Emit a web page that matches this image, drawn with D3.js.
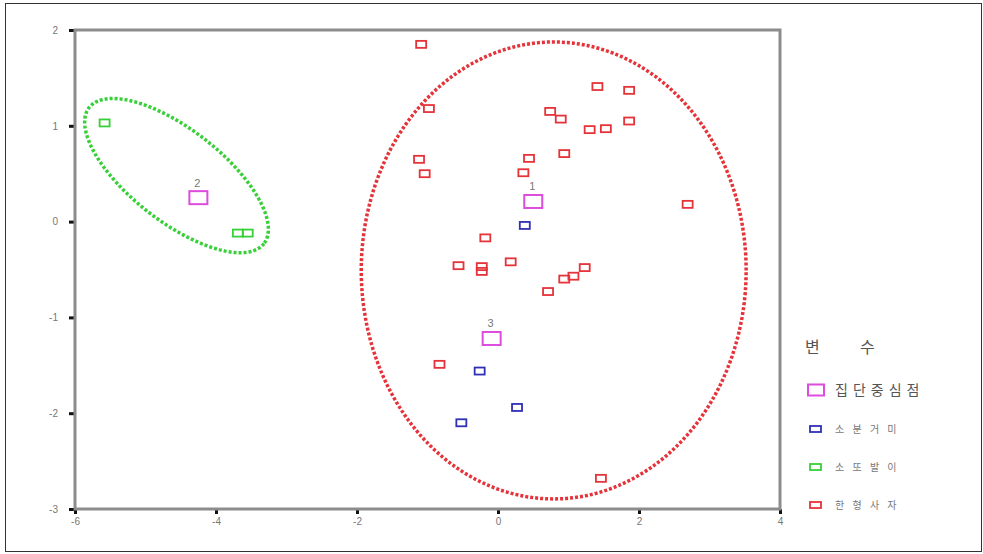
<!DOCTYPE html>
<html>
<head>
<meta charset="utf-8">
<script src="https://cdn.jsdelivr.net/npm/d3@7"></script>
<style>
  body { margin: 0; background: #fff; }
  svg { display: block; }
  .tick text { font-family: "Liberation Sans", Arial, sans-serif; font-size: 10px; fill: #777; }
  .legend text { font-family: "Noto Sans CJK KR", sans-serif; fill: #666; }
</style>
</head>
<body>
<svg id="chart" width="983" height="554"></svg>
<script>
// Group members: [x, y]
var redPoints = [
  [-1.09, 1.85], [-0.98, 1.18], [-1.12, 0.65], [-1.04, 0.50],
  [0.74, 1.15], [0.89, 1.07], [1.41, 1.41], [1.86, 1.37],
  [1.30, 0.96], [1.53, 0.97], [1.86, 1.05], [0.44, 0.66],
  [0.94, 0.71], [0.36, 0.51], [2.69, 0.18],
  [-0.18, -0.17], [-0.56, -0.46], [-0.23, -0.47], [-0.23, -0.52],
  [0.18, -0.42], [1.23, -0.48], [1.07, -0.57], [0.94, -0.60],
  [0.71, -0.73], [-0.83, -1.49], [1.46, -2.68]
];
var bluePoints = [[0.38, -0.04], [-0.26, -1.56], [0.27, -1.94], [-0.52, -2.10]];
var greenPoints = [[-5.58, 1.03], [-3.69, -0.12], [-3.55, -0.12]];

// Group centroids
var centroidLabels = ['1', '2', '3'];
var centroids = [[0.50, 0.21], [-4.25, 0.25], [-0.09, -1.22]];

// Ellipses: centre and two conjugate semi-axes in data units
var greenEllipse = { c: [-4.56, 0.48], a: [1.24, -0.71], b: [-0.40, -0.38] };
var redEllipse = { c: [0.79, -0.51], a: [2.73, 0], b: [0, 2.385] };

var xTicks = [-6, -4, -2, 0, 2, 4];
var yTicks = [-3, -2, -1, 0, 1, 2];
var legendTitle = ['변', '수'];
var legendLabels = ['집단중심점', '소 분 거 미', '소 또 발 이', '한 형 사 자'];

var colors = { red: '#e5333a', blue: '#3030b5', green: '#38d038', centroid: '#dd4ddd' };

var svg = d3.select('#chart');

// Outer frame
svg.append('rect')
  .attr('x', 5.5).attr('y', 3.5)
  .attr('width', 976).attr('height', 548)
  .attr('fill', 'none').attr('stroke', '#333').attr('stroke-width', 1);

var xScale = d3.scaleLinear().domain([-6, 4]).range([75, 780]);
var yScale = d3.scaleLinear().domain([-3, 2]).range([509, 30]);

// Axes (plain hyphen minus like the original)
var fmt = function(d) { return String(d); };
var xAxis = d3.axisBottom(xScale).tickValues(xTicks).tickFormat(fmt).tickSize(5).tickPadding(4);
var yAxis = d3.axisLeft(yScale).tickValues(yTicks).tickFormat(fmt).tickSize(6).tickPadding(11);

svg.append('g').attr('transform', 'translate(0,509)').call(xAxis)
  .call(function(g) { g.select('.domain').remove(); })
  .selectAll('line').attr('stroke', '#111').attr('stroke-width', 3);
svg.append('g').attr('transform', 'translate(75,0)').call(yAxis)
  .call(function(g) { g.select('.domain').remove(); })
  .selectAll('line').attr('stroke', '#111').attr('stroke-width', 3);

// Plot box
svg.append('rect')
  .attr('x', xScale(-6)).attr('y', yScale(2))
  .attr('width', xScale(4) - xScale(-6)).attr('height', yScale(-3) - yScale(2))
  .attr('fill', 'none').attr('stroke', '#8c8c8c').attr('stroke-width', 3);

// Ellipse path builder
function ellipsePath(e) {
  var pts = d3.range(0, 361, 2).map(function(deg) {
    var t = deg * Math.PI / 180;
    return [
      xScale(e.c[0] + e.a[0] * Math.cos(t) + e.b[0] * Math.sin(t)),
      yScale(e.c[1] + e.a[1] * Math.cos(t) + e.b[1] * Math.sin(t))
    ];
  });
  return d3.line().curve(d3.curveLinearClosed)(pts);
}

svg.append('path').attr('d', ellipsePath(greenEllipse))
  .attr('fill', 'none').attr('stroke', colors.green)
  .attr('stroke-width', 3.5).attr('stroke-dasharray', '3,2');
svg.append('path').attr('d', ellipsePath(redEllipse))
  .attr('fill', 'none').attr('stroke', colors.red)
  .attr('stroke-width', 3.5).attr('stroke-dasharray', '3,2');

// Small square markers
function drawMarkers(data, color) {
  svg.append('g').selectAll('rect').data(data).enter().append('rect')
    .attr('x', function(d) { return xScale(d[0]) - 5; })
    .attr('y', function(d) { return yScale(d[1]) - 3.5; })
    .attr('width', 10).attr('height', 7)
    .attr('fill', 'none').attr('stroke', color).attr('stroke-width', 1.8);
}
drawMarkers(redPoints, colors.red);
drawMarkers(bluePoints, colors.blue);
drawMarkers(greenPoints, colors.green);

// Centroids
var cg = svg.append('g').selectAll('g').data(centroids).enter().append('g');
cg.append('rect')
  .attr('x', function(d) { return xScale(d[0]) - 9; })
  .attr('y', function(d) { return yScale(d[1]) - 6.5; })
  .attr('width', 18).attr('height', 13)
  .attr('fill', 'none').attr('stroke', colors.centroid).attr('stroke-width', 2);
cg.append('text')
  .attr('x', function(d) { return xScale(d[0]) - 1; })
  .attr('y', function(d) { return yScale(d[1]) - 11; })
  .attr('text-anchor', 'middle')
  .style('font-family', '"Liberation Sans", Arial, sans-serif')
  .style('font-size', '11px').style('fill', '#777')
  .text(function(d, i) { return centroidLabels[i]; });

// Legend
var legend = svg.append('g').attr('class', 'legend');
legend.selectAll('text.title').data(legendTitle).enter().append('text')
  .attr('class', 'title')
  .attr('x', function(d, i) { return 805 + i * 55; })
  .attr('y', 353)
  .style('font-size', '16px').style('fill', '#555')
  .text(function(d) { return d; });

var legendColors = [colors.centroid, colors.blue, colors.green, colors.red];
var legendY = [390, 429, 467, 505];
legendLabels.forEach(function(lab, i) {
  var big = i === 0;
  legend.append('rect')
    .attr('x', big ? 808 : 810).attr('y', legendY[i] - (big ? 5.5 : 3))
    .attr('width', big ? 16 : 11).attr('height', big ? 11 : 6)
    .attr('fill', 'none').attr('stroke', legendColors[i])
    .attr('stroke-width', big ? 2 : 1.8);
  legend.append('text')
    .attr('x', 835).attr('y', legendY[i])
    .attr('dy', '0.35em')
    .style('font-size', big ? '14px' : '10px')
    .style('letter-spacing', big ? '5px' : '3px')
    .style('fill', big ? '#555' : '#777')
    .text(lab);
});
</script>
</body>
</html>
